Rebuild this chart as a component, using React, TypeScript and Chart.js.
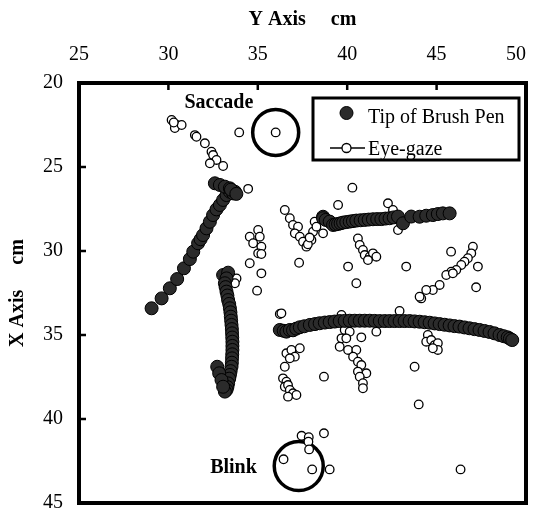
import { useEffect, useRef } from 'react';
import { Chart, registerables } from 'chart.js';

Chart.register(...registerables);

const xTickValues = [25, 30, 35, 40, 45, 50];
const yTickValues = [20, 25, 30, 35, 40, 45];

// Tip of Brush Pen — stroke 1 (diagonal)
const penStroke1: [number, number][] = [
  [29.06, 33.41], [29.62, 32.82], [30.08, 32.22], [30.49, 31.67], [30.87, 31.03], [31.2, 30.48],
  [31.39, 30.04], [31.66, 29.54], [31.8, 29.3], [31.94, 29.05], [32.13, 28.65], [32.32, 28.26],
  [32.5, 27.86], [32.69, 27.52], [32.88, 27.26], [33.06, 26.96], [33.25, 26.67], [33.44, 26.47],
  [33.62, 26.57], [32.6, 25.97], [32.88, 26.07], [33.16, 26.17], [33.44, 26.27], [33.72, 26.47],
  [33.5, 26.35], [33.8, 26.6],
];
// stroke 2 (J shape)
const penStroke2: [number, number][] = [
  [33.06, 31.43], [33.34, 31.29], [33.25, 31.63], [33.16, 31.92], [33.2, 32.15], [33.25, 32.42],
  [33.3, 32.65], [33.34, 32.92], [33.4, 33.15], [33.44, 33.41], [33.47, 33.65], [33.49, 33.91],
  [33.51, 34.15], [33.53, 34.4], [33.55, 34.65], [33.56, 34.9], [33.57, 35.15], [33.58, 35.4],
  [33.58, 35.65], [33.58, 35.89], [33.57, 36.15], [33.56, 36.39], [33.55, 36.65], [33.53, 36.89],
  [33.48, 37.15], [33.44, 37.38], [33.4, 37.6], [33.34, 37.88], [33.3, 38.1], [33.25, 38.27],
  [33.16, 38.37], [32.73, 36.89], [32.84, 37.28], [32.97, 37.68], [33.06, 38.08],
];
// stroke 3 (upper horizontal)
const penStroke3: [number, number][] = [
  [38.65, 27.96], [38.65, 28.05], [38.8, 28.15], [39.02, 28.25], [39.21, 28.45], [39.35, 28.42],
  [39.49, 28.39], [39.63, 28.35], [39.77, 28.31], [39.95, 28.28], [40.14, 28.25], [40.32, 28.22],
  [40.51, 28.19], [40.75, 28.17], [40.98, 28.15], [41.2, 28.13], [41.44, 28.11], [41.68, 28.1],
  [41.91, 28.1], [42.14, 28.07], [42.37, 28.05], [42.6, 28.0], [42.84, 27.95], [43.12, 28.35],
  [43.58, 27.95], [44.05, 27.96], [44.42, 27.9], [44.79, 27.86], [45.07, 27.8], [45.35, 27.76],
  [45.73, 27.76],
];
// stroke 4 (lower arc)
const penStroke4: [number, number][] = [
  [36.23, 34.7], [36.45, 34.75], [36.6, 34.8], [36.79, 34.7], [36.97, 34.72], [37.15, 34.62],
  [37.35, 34.54], [37.6, 34.48], [37.91, 34.4], [38.2, 34.35], [38.46, 34.3], [38.75, 34.26],
  [39.02, 34.23], [39.3, 34.2], [39.58, 34.17], [39.86, 34.16], [40.14, 34.15], [40.42, 34.15],
  [40.7, 34.15], [40.98, 34.15], [41.26, 34.15], [41.54, 34.16], [41.82, 34.17], [42.1, 34.17],
  [42.37, 34.17], [42.65, 34.17], [42.93, 34.17], [43.21, 34.17], [43.49, 34.17], [43.77, 34.19],
  [44.05, 34.21], [44.33, 34.24], [44.61, 34.27], [44.89, 34.31], [45.17, 34.35], [45.45, 34.39],
  [45.73, 34.43], [46.0, 34.47], [46.28, 34.5], [46.56, 34.55], [46.84, 34.6], [47.12, 34.65],
  [47.4, 34.7], [47.68, 34.76], [47.96, 34.82], [48.24, 34.9], [48.52, 35.0], [48.75, 35.07],
  [48.98, 35.14], [49.1, 35.22], [49.23, 35.3],
];

// Eye-gaze groups
const gazeTop: [number, number][] = [
  [30.18, 22.2], [30.46, 22.5], [30.36, 22.68], [30.74, 22.5], [30.3, 22.35], [31.48, 23.1],
  [31.57, 23.2], [32.04, 23.59], [32.41, 24.09], [32.5, 24.29], [32.69, 24.58], [32.32, 24.78],
  [33.06, 24.94], [33.96, 22.94], [36.0, 22.94], [34.46, 26.3],
];
const gazeMidLeft: [number, number][] = [
  [35.02, 28.75], [34.55, 29.15], [35.11, 29.15], [34.74, 29.54], [35.2, 29.74], [35.02, 30.14],
  [35.2, 30.18], [34.55, 30.73], [35.2, 31.33], [34.96, 32.36], [33.81, 31.63], [33.72, 31.92],
  [36.23, 33.75], [37.31, 30.7],
];
const gazeCenter: [number, number][] = [
  [36.51, 27.56], [36.79, 28.05], [36.97, 28.45], [37.25, 28.55], [37.07, 28.95], [37.35, 29.15],
  [37.53, 29.45], [37.72, 29.74], [38.0, 29.35], [38.09, 28.85], [38.18, 28.26], [38.28, 28.55],
  [38.65, 28.95], [37.8, 29.6], [37.9, 29.2],
  [40.29, 26.23], [39.49, 27.26], [42.28, 27.16], [42.56, 27.56], [42.84, 28.75],
  [40.6, 29.25], [40.7, 29.64], [40.88, 29.94], [40.98, 30.24], [41.26, 30.34], [41.44, 30.14],
  [41.63, 30.34], [41.16, 30.54], [40.05, 30.93], [43.3, 30.93], [40.51, 31.92],
];
const gazeRight: [number, number][] = [
  [45.81, 30.04], [47.03, 29.74], [46.94, 30.14], [46.75, 30.43], [46.56, 30.64], [46.38, 30.83],
  [46.1, 31.13], [45.82, 31.23], [45.54, 31.43], [45.91, 31.33], [45.17, 32.02], [44.79, 32.32],
  [44.42, 32.32], [44.14, 32.82], [44.05, 32.72], [47.31, 30.93], [47.21, 32.16],
  [42.93, 33.57], [39.68, 33.81], [36.32, 33.71], [41.63, 34.8],
];
const gazeLower: [number, number][] = [
  [39.86, 34.7], [40.14, 34.8], [39.68, 35.2], [39.95, 35.2], [40.79, 35.14], [39.58, 35.7],
  [40.05, 35.89], [40.51, 35.89], [40.33, 36.29], [40.6, 36.59], [40.79, 36.79], [41.07, 37.28],
  [40.6, 37.18], [40.7, 37.48], [40.88, 37.87], [40.88, 38.17], [38.7, 37.48],
  [44.51, 35.0], [44.42, 35.4], [44.7, 35.3], [44.89, 35.6], [45.07, 35.49], [45.07, 35.89],
  [44.79, 35.79], [43.77, 36.89], [44.0, 39.13],
  [36.6, 36.09], [36.88, 35.89], [37.07, 36.29], [37.35, 35.79], [36.79, 36.39], [36.51, 36.89],
  [36.41, 37.58], [36.6, 37.78], [36.51, 38.08], [36.69, 37.98], [36.79, 38.27], [36.97, 38.47],
  [37.16, 38.57], [36.69, 38.67],
];
const gazeBlink: [number, number][] = [
  [37.45, 41.0], [37.85, 41.08], [37.83, 41.35], [37.87, 41.81], [38.7, 40.85], [36.44, 42.4],
  [38.04, 43.0], [39.02, 43.0], [46.34, 43.0],
];

// Annotation circles (Saccade, Blink) and their labels
const markCircles: [number, number][] = [[36.0, 22.94], [37.29, 42.8]];
const markLabels: { text: string; x: number; y: number }[] = [
  { text: 'Saccade', x: 32.82, y: 21.49 },
  { text: 'Blink', x: 33.64, y: 43.21 },
];

const seriesNames = ['Tip of Brush Pen', 'Eye-gaze'];
const FONT = "'Liberation Serif', 'Times New Roman', serif";

export default function App() {
  const ref = useRef<HTMLCanvasElement>(null);

  useEffect(() => {
    const canvas = ref.current!;
    const toPts = (arr: [number, number][]) => arr.map(([x, y]) => ({ x, y }));
    const penData = toPts([...penStroke1, ...penStroke2, ...penStroke3, ...penStroke4]);
    const gazeData = toPts([...gazeTop, ...gazeMidLeft, ...gazeCenter, ...gazeRight, ...gazeLower, ...gazeBlink]);
    const lastX = xTickValues[xTickValues.length - 1];

    const overlay = {
      id: 'overlay',
      afterDatasetsDraw(chart: any) {
        const { ctx, chartArea: a, scales } = chart;
        const xs = scales.x;
        const ys = scales.y;
        ctx.save();
        // plot frame
        ctx.strokeStyle = '#000';
        ctx.lineWidth = 4;
        ctx.strokeRect(a.left, a.top, a.right - a.left, a.bottom - a.top);
        // inward ticks
        ctx.lineWidth = 2.5;
        ctx.beginPath();
        xTickValues.slice(1, -1).forEach((v) => {
          const px = xs.getPixelForValue(v);
          ctx.moveTo(px, a.top);
          ctx.lineTo(px, a.top + 7);
        });
        yTickValues.slice(1, -1).forEach((v) => {
          const py = ys.getPixelForValue(v);
          ctx.moveTo(a.left, py);
          ctx.lineTo(a.left + 7, py);
        });
        ctx.stroke();
        // annotation labels
        ctx.fillStyle = '#000';
        ctx.font = `bold 20px ${FONT}`;
        ctx.textAlign = 'center';
        ctx.textBaseline = 'alphabetic';
        markLabels.forEach((m) => {
          ctx.fillText(m.text, xs.getPixelForValue(m.x), ys.getPixelForValue(m.y));
        });
        // legend
        const lx = a.left + 234;
        const ly = a.top + 15;
        const lw = 206;
        const lh = 62;
        ctx.fillStyle = '#fff';
        ctx.fillRect(lx, ly, lw, lh);
        ctx.lineWidth = 3;
        ctx.strokeRect(lx, ly, lw, lh);
        const mx = lx + 33.5;
        // filled marker
        ctx.beginPath();
        ctx.arc(mx, ly + 15, 6.5, 0, Math.PI * 2);
        ctx.fillStyle = '#2b2b2b';
        ctx.fill();
        ctx.lineWidth = 1;
        ctx.strokeStyle = '#000';
        ctx.stroke();
        // line + open marker
        ctx.lineWidth = 1.5;
        ctx.beginPath();
        ctx.moveTo(lx + 17, ly + 50);
        ctx.lineTo(lx + 52, ly + 50);
        ctx.stroke();
        ctx.beginPath();
        ctx.arc(mx, ly + 50, 4.5, 0, Math.PI * 2);
        ctx.fillStyle = '#fff';
        ctx.fill();
        ctx.lineWidth = 1.3;
        ctx.stroke();
        ctx.fillStyle = '#000';
        ctx.font = `20px ${FONT}`;
        ctx.textAlign = 'left';
        ctx.fillText(seriesNames[0], lx + 55, ly + 25);
        ctx.fillText(seriesNames[1], lx + 55, ly + 57);
        ctx.restore();
      },
    };

    const chart = new Chart(canvas, {
      type: 'scatter',
      data: {
        datasets: [
          {
            label: seriesNames[0],
            data: penData,
            pointRadius: 6.5,
            pointHoverRadius: 6.5,
            backgroundColor: '#2b2b2b',
            borderColor: '#000',
            borderWidth: 1,
          },
          {
            label: seriesNames[1],
            data: gazeData,
            pointRadius: 4.3,
            pointHoverRadius: 4.3,
            backgroundColor: '#fff',
            borderColor: '#000',
            borderWidth: 1.3,
          },
          {
            label: 'marks',
            data: toPts(markCircles),
            pointRadius: [23, 24.5],
            pointHoverRadius: [23, 24.5],
            backgroundColor: 'rgba(0,0,0,0)',
            borderColor: '#000',
            borderWidth: 3.5,
          },
        ],
      },
      options: {
        responsive: false,
        animation: false,
        events: [],
        layout: { autoPadding: false, padding: { left: 0, top: 0, right: 13, bottom: 8 } },
        plugins: { legend: { display: false }, tooltip: { enabled: false } },
        scales: {
          x: {
            type: 'linear',
            position: 'top',
            min: 25,
            max: 50,
            afterBuildTicks: (s: any) => { s.ticks = xTickValues.map((v) => ({ value: v })); },
            afterFit: (s: any) => { s.height = 83; s.paddingLeft = 0; s.paddingRight = 0; },
            grid: { display: false, drawTicks: false },
            border: { display: false },
            ticks: {
              padding: 16,
              color: '#000',
              font: { family: FONT, size: 20 },
              maxRotation: 0,
              callback: (v: number) => (v === lastX ? `${v}\u2002\u2002` : `${v}`),
            },
            title: { display: true, text: 'Y Axis     cm', color: '#000', padding: { top: 8, bottom: 0 }, font: { family: FONT, size: 20, weight: 'bold' } },
          },
          y: {
            type: 'linear',
            reverse: true,
            min: 20,
            max: 45,
            afterBuildTicks: (s: any) => { s.ticks = yTickValues.map((v) => ({ value: v })); },
            afterFit: (s: any) => { s.width = 79; s.paddingTop = 0; s.paddingBottom = 0; },
            grid: { display: false, drawTicks: false },
            border: { display: false },
            ticks: { padding: 16, color: '#000', font: { family: FONT, size: 20 } },
            title: { display: true, text: 'X Axis     cm', color: '#000', padding: { top: 6, bottom: 0 }, font: { family: FONT, size: 20, weight: 'bold' } },
          },
        },
      } as any,
      plugins: [overlay],
    });
    return () => chart.destroy();
  }, []);

  return (
    <div style={{ position: 'absolute', left: 0, top: 0, width: 539, height: 511, background: '#fff' }}>
      <canvas ref={ref} width={539} height={511} style={{ width: 539, height: 511, display: 'block' }} />
    </div>
  );
}
